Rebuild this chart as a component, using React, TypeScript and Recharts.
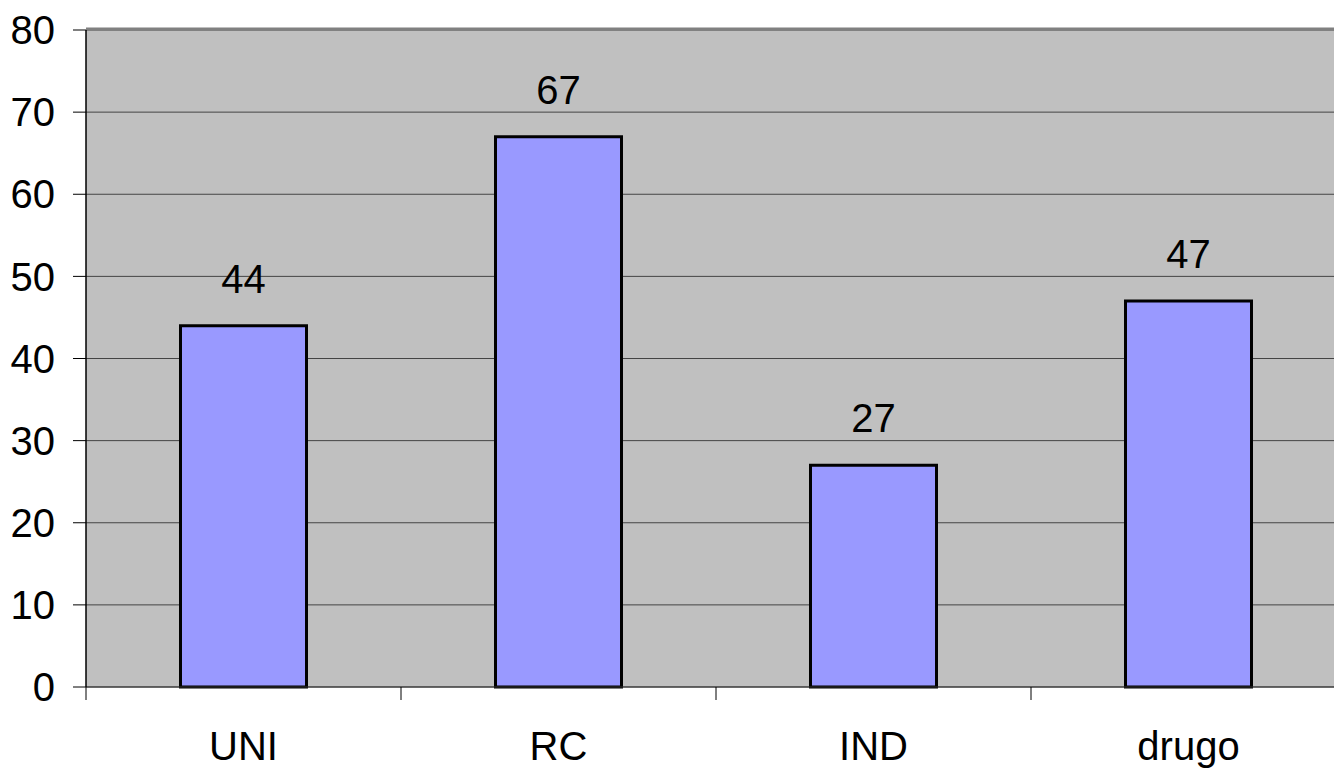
import React from 'react';
import { BarChart, Bar, XAxis, YAxis, CartesianGrid, LabelList, ReferenceLine } from 'recharts';

const categories = ['UNI', 'RC', 'IND', 'drugo'];
const values = [44, 67, 27, 47];
const yTicks = [0, 10, 20, 30, 40, 50, 60, 70, 80];

const data = categories.map((name, i) => ({ name, value: values[i] }));

const FONT = '"Liberation Sans", Arial, sans-serif';
const X_TICK_SIZE = 13;
const X_TICK_MARGIN = 32;

const XTick = (props: any) => {
  const { x, y, payload, index, visibleTicksCount, width } = props;
  const half = payload && payload.offset ? payload.offset : width / visibleTicksCount / 2;
  const y0 = y - X_TICK_MARGIN - X_TICK_SIZE;
  const y1 = y - X_TICK_MARGIN;
  return (
    <g>
      <line x1={x - half} x2={x - half} y1={y0} y2={y1} stroke="#000" strokeWidth={1} />
      {index === visibleTicksCount - 1 && (
        <line x1={x + half} x2={x + half} y1={y0} y2={y1} stroke="#000" strokeWidth={1} />
      )}
      <text x={x} y={y} dy="0.71em" textAnchor="middle" fill="#000" fontSize={40} fontFamily={FONT}>
        {payload.value}
      </text>
    </g>
  );
};

export default function App() {
  return (
    <div style={{ position: 'fixed', left: 0, top: 0, width: 1334, height: 769, overflow: 'hidden', background: '#fff' }}>
      <BarChart
        width={1346}
        height={769}
        data={data}
        margin={{ top: 30, right: 0, bottom: 0, left: 0 }}
        barCategoryGap="30%"
      >
        <CartesianGrid vertical={false} horizontal fill="#C0C0C0" stroke="#444" strokeWidth={1} />
        <ReferenceLine y={80} stroke="#808080" strokeWidth={3} ifOverflow="visible" transform="translate(0,-1)" />
        <XAxis
          dataKey="name"
          height={82}
          tickLine={false}
          tickSize={X_TICK_SIZE}
          tickMargin={X_TICK_MARGIN}
          axisLine={{ stroke: '#333', strokeWidth: 1 }}
          tick={<XTick />}
          interval={0}
        />
        <YAxis
          width={86}
          domain={[0, 80]}
          ticks={yTicks}
          tickSize={13}
          tickMargin={18}
          tickLine={{ stroke: '#000' }}
          axisLine={{ stroke: '#000', strokeWidth: 1.5 }}
          tick={{ fill: '#000', fontSize: 40, fontFamily: FONT }}
          interval={0}
        />
        <Bar dataKey="value" fill="#9999FF" stroke="#000" strokeWidth={3} isAnimationActive={false}>
          <LabelList dataKey="value" position="top" offset={33} fill="#000" fontSize={40} fontFamily={FONT} />
        </Bar>
      </BarChart>
    </div>
  );
}
